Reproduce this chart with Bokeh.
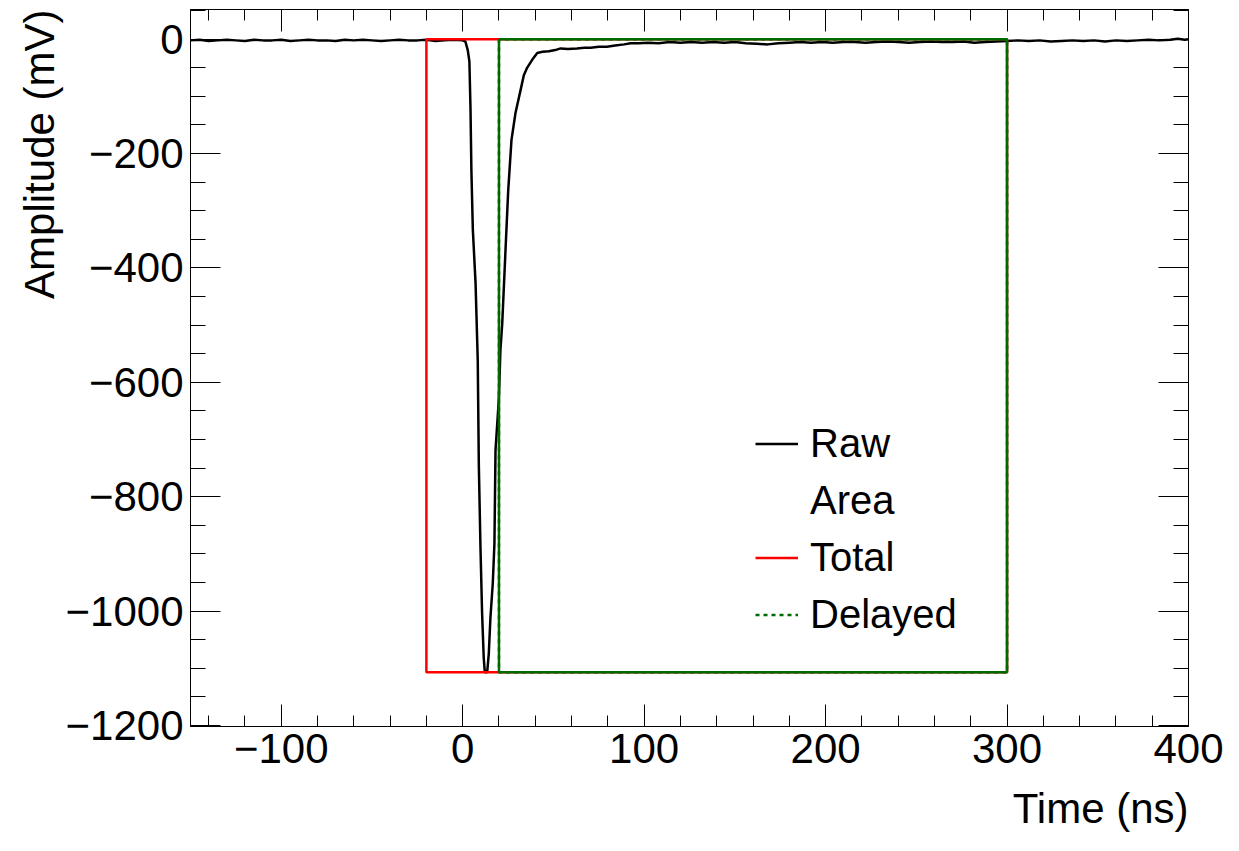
from bokeh.plotting import figure
from bokeh.models import (Range1d, LinearAxis, SingleIntervalTicker, CustomJSTickFormatter,
                          Legend, LegendItem, Title, ColumnDataSource)
from bokeh.embed import file_html
from bokeh.resources import INLINE

# ---------------- data ----------------
time_ns = [-150, -145, -140, -135, -130, -125, -120, -115, -110, -105, -100, -95, -90, -85, -80,
           -75, -70, -65, -60, -55, -50, -45, -40, -35, -30, -25, -20, -15, -10, -5, 0,
           1.5, 2.8, 3.7, 4.3, 4.8, 5.6, 7.1, 8.3, 8.9, 9.8, 10.7, 11.6, 12.2, 13.5, 14.4,
           15.3, 16.6, 17.5, 18.1, 19.9, 20.8, 21.8, 23.6, 25.1, 26.9, 29.1, 31.9, 33.7, 35.5,
           38.3, 41.1, 44, 47.5, 51, 54, 58, 63, 67, 70.5, 75, 79.5, 84, 89, 92.5, 97, 102,
           108, 114, 120, 126, 132, 138, 144, 150, 156, 162, 168, 174, 180, 186, 192, 198,
           204, 210, 216, 222, 228, 234, 240, 246, 252, 258, 264, 270, 276, 282, 288, 294,
           300, 306, 312, 318, 324, 330, 336, 342, 348, 354, 360, 366, 372, 378, 384, 390,
           394, 398, 400]
amplitude_mv = [-2, -1, -3, -2, -1, -2, -3, -1, -2, -2, -1, -3, -2, -1, -2,
                -2, -3, -1, -2, -1, -2, -3, -2, -1, -2, -2, -1, -3, -2, -1, -2,
                -4, -19, -39, -120, -229, -333, -427, -561, -745, -888, -1004, -1082, -1107, -1107, -1074,
                -1011, -951, -882, -718, -631, -544, -497, -369, -264, -176, -129, -89, -63, -50,
                -36, -24, -22, -21, -19, -16, -17, -16, -15, -15, -13, -13, -11, -9, -7, -7, -6,
                -7, -5, -6, -5, -6, -5, -6, -5, -7, -8, -9, -7, -6, -5, -6, -5,
                -6, -5, -5, -6, -5, -4, -5, -6, -5, -4, -5, -5, -4, -6, -5, -4,
                -3, -2, -3, -2, -4, -3, -2, -3, -2, -4, -2, -3, -2, -1, -2, -1,
                1, -1, 0]

total_window = [-20, 300]      # ns
delayed_window = [20, 300]     # ns
window_amplitude = [0, -1107]  # mV (baseline, pulse minimum)

x_range = [-150, 400]
y_range = [-1202, 52]

x_title = "Time (ns)"
y_title = "Amplitude (mV)"

FONT = "Liberation Sans"
GREEN = "#006a00"
RED = "#ff0000"

p = figure(width=1239, height=851, output_backend="svg", toolbar_location=None,
           x_range=Range1d(*x_range), y_range=Range1d(*y_range),
           x_axis_type=None, y_axis_type=None,
           min_border_left=190, min_border_right=51, min_border_top=9, min_border_bottom=125)
p.grid.visible = False
p.background_fill_color = "white"
p.border_fill_color = "white"
p.outline_line_color = "black"
p.outline_line_width = 1

minus_fmt = CustomJSTickFormatter(code="return (tick < 0 ? '\u2212' : '') + Math.abs(tick).toFixed(0);")
blank_fmt = CustomJSTickFormatter(code="return '';")


def make_axis(kind, labelled):
    if kind == "x":
        ticker = SingleIntervalTicker(interval=100, num_minor_ticks=5)
        major_len, minor_len = 22, 11
    else:
        ticker = SingleIntervalTicker(interval=200, num_minor_ticks=4)
        major_len, minor_len = 30, 15
    ax = LinearAxis(ticker=ticker, formatter=minus_fmt if labelled else blank_fmt)
    ax.major_tick_in = major_len
    ax.major_tick_out = 0
    ax.minor_tick_in = minor_len
    ax.minor_tick_out = 0
    ax.axis_line_color = "black"
    ax.major_tick_line_color = "black"
    ax.minor_tick_line_color = "black"
    ax.major_label_text_font = FONT
    ax.major_label_text_font_size = "42px"
    ax.major_label_text_color = "black"
    if not labelled:
        ax.major_label_standoff = 0
    return ax


xb = make_axis("x", True)
xb.major_label_standoff = 7
yl = make_axis("y", True)
yl.major_label_standoff = 7
p.add_layout(xb, "below")
p.add_layout(yl, "left")
p.add_layout(make_axis("x", False), "above")
p.add_layout(make_axis("y", False), "right")

p.add_layout(Title(text=x_title, align="right", text_font=FONT, text_font_size="42px",
                   text_font_style="normal", text_color="black", standoff=35), "below")
p.add_layout(Title(text=y_title, align="right", text_font=FONT, text_font_size="42px",
                   text_font_style="normal", text_color="black", standoff=0), "left")

src = ColumnDataSource(dict(t=time_ns, a=amplitude_mv))
raw = p.line("t", "a", source=src, line_color="black", line_width=2.5)

tot_x = [total_window[0], total_window[0], total_window[1], total_window[1], total_window[0]]
tot_y = [window_amplitude[0], window_amplitude[1], window_amplitude[1], window_amplitude[0], window_amplitude[0]]
total = p.line(tot_x, tot_y, line_color=RED, line_width=2.5)

del_x = [delayed_window[0], delayed_window[0], delayed_window[1], delayed_window[1], delayed_window[0]]
del_y = [window_amplitude[0], window_amplitude[1], window_amplitude[1], window_amplitude[0], window_amplitude[0]]
# dotted style (shown in the legend) under the solid box drawn on top
delayed_r = p.line(del_x, del_y, line_color=GREEN, line_width=2.5, line_dash="4 4")
p.line(del_x, del_y, line_color=GREEN, line_width=2.5)

# legend-only renderer for the "Area" header entry
area_r = p.line(del_x, del_y, line_alpha=0)

legend = Legend(items=[LegendItem(label="Raw", renderers=[raw]),
                       LegendItem(label="Area", renderers=[area_r]),
                       LegendItem(label="Total", renderers=[total]),
                       LegendItem(label="Delayed", renderers=[delayed_r])],
                location=(565, 83))
legend.label_text_font = FONT
legend.label_text_font_size = "40px"
legend.label_text_color = "black"
legend.glyph_width = 43
legend.glyph_height = 57
legend.label_height = 57
legend.label_standoff = 12
legend.spacing = 0
legend.padding = 0
legend.margin = 0
legend.border_line_color = None
legend.background_fill_alpha = 0
p.add_layout(legend)

open("out.html", "w").write(file_html(p, INLINE))
